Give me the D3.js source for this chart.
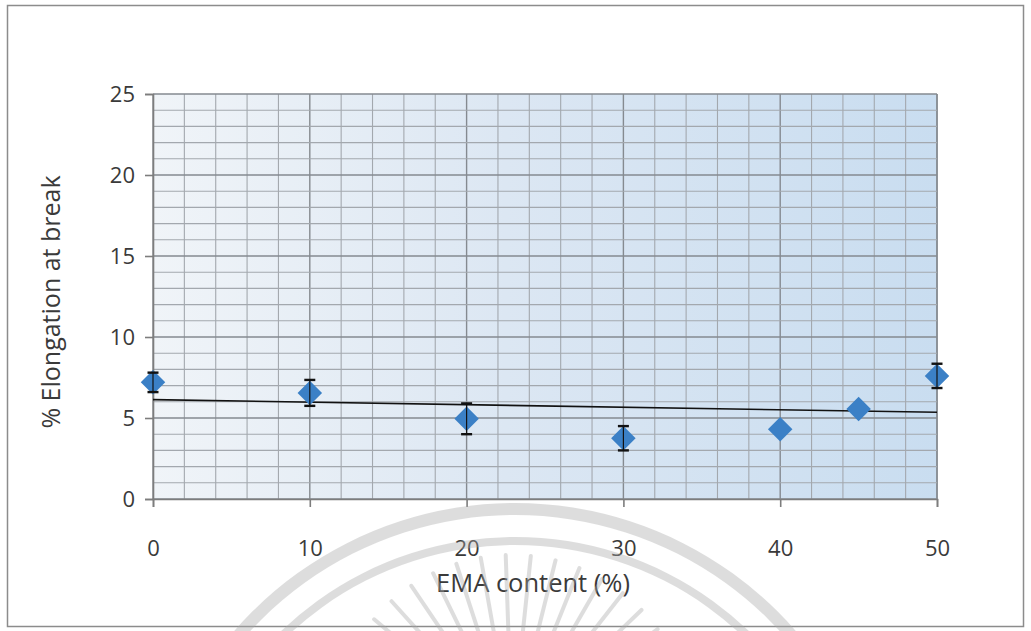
<!DOCTYPE html>
<html>
<head>
<meta charset="utf-8">
<script src="https://cdn.jsdelivr.net/npm/d3@7"></script>
<style>
  html, body { margin: 0; padding: 0; background: #fff; }
  svg { display: block; }
  text { font-family: "Open Sans", "Noto Sans", sans-serif; fill: #3a3a3a; }
</style>
</head>
<body>
<svg id="chart" width="1031" height="631"></svg>
<script>
// Elongation at break versus EMA content
const emaContent    = [0, 10, 20, 30, 40, 45, 50];
const elongation    = [7.2, 6.55, 4.95, 3.75, 4.3, 5.55, 7.6];
const elongationErr = [0.6, 0.8, 0.95, 0.75, null, null, 0.75];
const xTickValues   = [0, 10, 20, 30, 40, 50];
const yTickValues   = [0, 5, 10, 15, 20, 25];
const xTitle = "EMA content (%)";
const yTitle = "% Elongation at break";

const plot = { left: 153, right: 937, top: 94, bottom: 499 };

const svg = d3.select("#chart");

// outer frame
svg.append("rect")
  .attr("x", 7.5).attr("y", 5.5)
  .attr("width", 1016).attr("height", 621)
  .attr("fill", "#fff").attr("stroke", "#8c8c8c").attr("stroke-width", 1.5);

const x = d3.scaleLinear().domain([0, 50]).range([plot.left, plot.right]);
const y = d3.scaleLinear().domain([0, 25]).range([plot.bottom, plot.top]);

// graph-paper background
const defs = svg.append("defs");
const grad = defs.append("linearGradient").attr("id", "paper")
  .attr("x1", "0%").attr("x2", "100%").attr("y1", "0%").attr("y2", "0%");
grad.append("stop").attr("offset", "0%").attr("stop-color", "#f0f4f8");
grad.append("stop").attr("offset", "45%").attr("stop-color", "#dce7f3");
grad.append("stop").attr("offset", "100%").attr("stop-color", "#c9ddf0");

svg.append("rect")
  .attr("x", plot.left).attr("y", plot.top)
  .attr("width", plot.right - plot.left).attr("height", plot.bottom - plot.top)
  .attr("fill", "url(#paper)");

// grid: vertical lines every 2 units, horizontal every 1 unit
const grid = svg.append("g");
grid.selectAll("line.v").data(d3.range(0, 51, 2).concat([50]))
  .join("line")
  .attr("x1", d => x(d)).attr("x2", d => x(d))
  .attr("y1", plot.top).attr("y2", plot.bottom)
  .attr("stroke", d => d % 10 === 0 ? "#858a90" : "#a3a8ae")
  .attr("stroke-width", d => d % 10 === 0 ? 1.4 : 1.1);
grid.selectAll("line.h").data(d3.range(0, 26, 1))
  .join("line")
  .attr("x1", plot.left).attr("x2", plot.right)
  .attr("y1", d => y(d)).attr("y2", d => y(d))
  .attr("stroke", d => d % 5 === 0 ? "#858a90" : "#a3a8ae")
  .attr("stroke-width", d => d % 5 === 0 ? 1.4 : 1.1);

// axes
const yAxis = d3.axisLeft(y).tickValues(yTickValues).tickSize(8).tickPadding(10).tickFormat(d3.format("d"));
const xAxis = d3.axisBottom(x).tickValues(xTickValues).tickSize(8).tickPadding(33).tickFormat(d3.format("d"));

const gy = svg.append("g").attr("transform", `translate(${plot.left},0)`).call(yAxis);
const gx = svg.append("g").attr("transform", `translate(0,${plot.bottom})`).call(xAxis);
[gx, gy].forEach(g => {
  g.select(".domain").attr("stroke", "#7d7d7d").attr("stroke-width", 1.6);
  g.selectAll(".tick line").attr("stroke", "#7d7d7d").attr("stroke-width", 1.6);
  g.selectAll(".tick text").attr("font-size", 22).attr("fill", "#3a3a3a")
    .attr("font-family", "'Open Sans', 'Noto Sans', sans-serif");
});

// axis titles
svg.append("text")
  .attr("x", 533).attr("y", 592)
  .attr("text-anchor", "middle").attr("font-size", 25.5)
  .text(xTitle);
svg.append("text")
  .attr("transform", `translate(60,302) rotate(-90)`)
  .attr("text-anchor", "middle").attr("font-size", 25)
  .text(yTitle);

// linear trend line (least squares)
const pts = emaContent.map((v, i) => [v, elongation[i]]);
const mx = d3.mean(pts, p => p[0]), my = d3.mean(pts, p => p[1]);
const slope = d3.sum(pts, p => (p[0] - mx) * (p[1] - my)) / d3.sum(pts, p => (p[0] - mx) ** 2);
const intercept = my - slope * mx;
const trend = [0, 50].map(v => [v, intercept + slope * v]);
svg.append("path")
  .attr("d", d3.line().x(d => x(d[0])).y(d => y(d[1]))(trend))
  .attr("stroke", "#111").attr("stroke-width", 1.6).attr("fill", "none");

// diamond markers
const diamond = d3.symbol().type(d3.symbolSquare).size(300);
svg.append("g").selectAll("path").data(pts)
  .join("path")
  .attr("d", diamond)
  .attr("transform", d => `translate(${x(d[0])},${y(d[1])}) rotate(45)`)
  .attr("fill", "#3b80c6");

// error bars
const errData = pts.map((p, i) => ({ x: p[0], y: p[1], e: elongationErr[i] })).filter(d => d.e != null);
const eb = svg.append("g").attr("stroke", "#111");
errData.forEach(d => {
  eb.append("line").attr("x1", x(d.x)).attr("x2", x(d.x))
    .attr("y1", y(d.y - d.e)).attr("y2", y(d.y + d.e)).attr("stroke-width", 1.2);
  [d.y - d.e, d.y + d.e].forEach(v => {
    eb.append("line").attr("x1", x(d.x) - 5.5).attr("x2", x(d.x) + 5.5)
      .attr("y1", y(v)).attr("y2", y(v)).attr("stroke-width", 2.4);
  });
});

// faint seal printed across the lower part of the page
const seal = svg.append("g").attr("opacity", 0.38);
const cx = 515, cy = 875;
const arc = d3.arc();
[[360, 372], [330, 338]].forEach(([r0, r1]) => {
  seal.append("path")
    .attr("transform", `translate(${cx},${cy})`)
    .attr("d", arc({ innerRadius: r0, outerRadius: r1, startAngle: -1.25, endAngle: 1.25 }))
    .attr("fill", "#a8a8a8");
});
d3.range(-66, 67, 8).forEach(a => {
  const t = a * Math.PI / 180;
  const rx = 512, ry = 735;
  seal.append("line")
    .attr("x1", rx + Math.sin(t) * 95).attr("y1", ry - Math.cos(t) * 95)
    .attr("x2", rx + Math.sin(t) * 180).attr("y2", ry - Math.cos(t) * 180)
    .attr("stroke", "#a8a8a8").attr("stroke-width", 4).attr("stroke-linecap", "round");
});
</script>
</body>
</html>
